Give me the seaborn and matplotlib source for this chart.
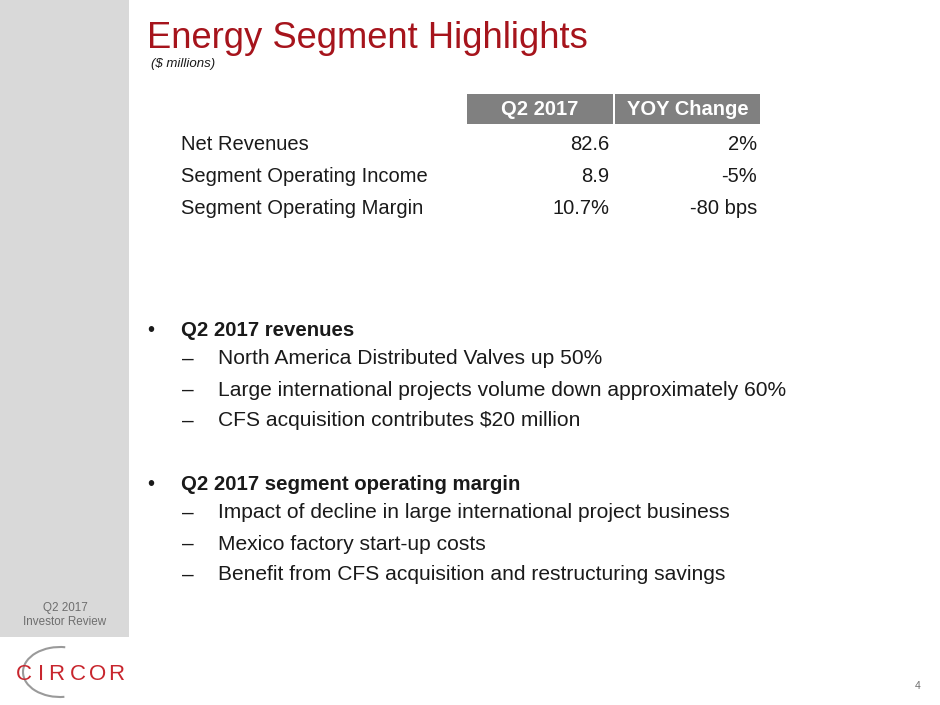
import matplotlib
matplotlib.use("Agg")
import matplotlib.pyplot as plt
import matplotlib.patches as mpatches
import seaborn as sns

sns.set_theme(style="white")
plt.rcParams['font.family'] = ['Liberation Sans', 'DejaVu Sans']

# slide content
title = "Energy Segment Highlights"
subtitle = "($ millions)"
col_headers = ["Q2 2017", "YOY Change"]
row_labels = ["Net Revenues", "Segment Operating Income", "Segment Operating Margin"]
q2_values = ["82.6", "8.9", "10.7%"]
yoy_values = ["2%", "-5%", "-80 bps"]
bullets = [
    ("Q2 2017 revenues", [
        "North America Distributed Valves up 50%",
        "Large international projects volume down approximately 60%",
        "CFS acquisition contributes $20 million",
    ]),
    ("Q2 2017 segment operating margin", [
        "Impact of decline in large international project business",
        "Mexico factory start-up costs",
        "Benefit from CFS acquisition and restructuring savings",
    ]),
]
sidebar_text = ["Q2 2017", "Investor Review"]
logo_letters = list("CIRCOR")
page_number = "4"

RED = "#a6141c"
TEXT = "#1a1a1a"

fig = plt.figure(figsize=(9.4, 7.05), dpi=100)
ax = fig.add_axes([0, 0, 1, 1])
ax.set_xlim(0, 940)
ax.set_ylim(705, 0)
ax.axis("off")

# left sidebar
ax.add_patch(mpatches.Rectangle((0, 0), 129, 637, color="#d9d9d9", lw=0))
ax.text(65, 608, sidebar_text[0], ha="center", va="center", fontsize=8.4, color="#6e6e6e")
ax.text(65, 622, sidebar_text[1], ha="center", va="center", fontsize=8.4, color="#6e6e6e")

# logo
ax.add_patch(mpatches.Arc((60, 672), 74, 50, theta1=80, theta2=282, color="#9a9a9a", lw=1.5))
logo_x = [23.5, 41, 56.5, 77.5, 97.5, 116]
for x, ch in zip(logo_x, logo_letters):
    ax.text(x, 674, ch, ha="center", va="center", fontsize=16, color="#c8262e")

# title
ax.text(147, 38, title, ha="left", va="center", fontsize=26.2, color=RED)
ax.text(151, 64, subtitle, ha="left", va="center", fontsize=9.5, style="italic", color=TEXT)

# table header
for x0, w, lab in [(467, 146, col_headers[0]), (615, 145, col_headers[1])]:
    ax.add_patch(mpatches.Rectangle((x0, 94), w, 30, color="#808080", lw=0))
    ax.text(x0 + w / 2, 109.5, lab, ha="center", va="center", fontsize=14.5,
            fontweight="bold", color="white")

row_y = [144, 176, 208]
for y, lab, v1, v2 in zip(row_y, row_labels, q2_values, yoy_values):
    ax.text(181, y, lab, ha="left", va="center", fontsize=14.5, color=TEXT)
    ax.text(609, y, v1, ha="right", va="center", fontsize=14.5, color=TEXT)
    ax.text(757, y, v2, ha="right", va="center", fontsize=14.5, color=TEXT)

# bullets
y = 330
for head, subs in bullets:
    ax.text(147, y, "•", ha="left", va="center", fontsize=14.5, color=TEXT)
    ax.text(181, y, head, ha="left", va="center", fontsize=14.7, fontweight="bold", color=TEXT)
    y += 29
    for s in subs:
        ax.text(182, y, "–", ha="left", va="center", fontsize=15.1, color=TEXT)
        ax.text(218, y, s, ha="left", va="center", fontsize=15.1, color=TEXT)
        y += 31
    y += 32

ax.text(918, 686, page_number, ha="center", va="center", fontsize=7.5, color="#6e6e6e")

fig.savefig("out.png", dpi=100)
